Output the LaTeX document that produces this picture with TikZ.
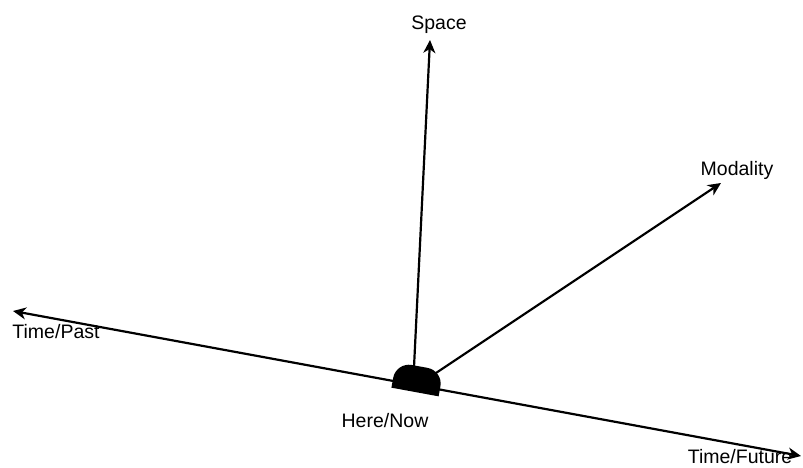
\documentclass[tikz,border=0pt]{standalone}
\usepackage{fontspec}
\setmainfont{Liberation Sans}
\usetikzlibrary{arrows.meta}
\tikzset{
  eje/.style={-{Stealth[length=13pt,width=12pt,inset=4pt]},line width=2.2pt},
  eje2/.style={eje,{Stealth[length=13pt,width=12pt,inset=4pt]}-{Stealth[length=13pt,width=12pt,inset=4pt]}},
  et/.style={font=\fontsize{19.5}{23}\selectfont,inner sep=0pt},
}
\begin{document}
\begin{tikzpicture}[x=1pt,y=1pt]
\useasboundingbox (0,0) rectangle (803,467);

\coordinate (pasado) at (13,156);
\coordinate (futuro) at (801,11);
\coordinate (base1)  at (414,100);
\coordinate (base2)  at (433,92);
\coordinate (espacio) at (430,427);
\coordinate (modal)  at (721,284);

\node[et] (tspace) at (439,442) {Space};
\node[et] (tmodal) at (737,297) {Modality};
\node[et] (tpast)  at (56,135)  {Time/Past};
\node[et] (tfut)   at (740,10)  {Time/Future};
\node[et] (taqui)  at (385,46)  {Here/Now};

\draw[eje2] (pasado) -- (futuro);
\draw[eje] (base1) -- (espacio);
\draw[eje] (base2) -- (modal);
% la marca de aqui/ahora va girada como el eje del tiempo
\fill[rotate around={-10.4:(415,75)}] (391,75) -- (391,85)
  arc[start angle=180,end angle=90,radius=16] -- (423,101)
  arc[start angle=90,end angle=0,radius=16] -- (439,75) -- cycle;

\end{tikzpicture}
\end{document}
